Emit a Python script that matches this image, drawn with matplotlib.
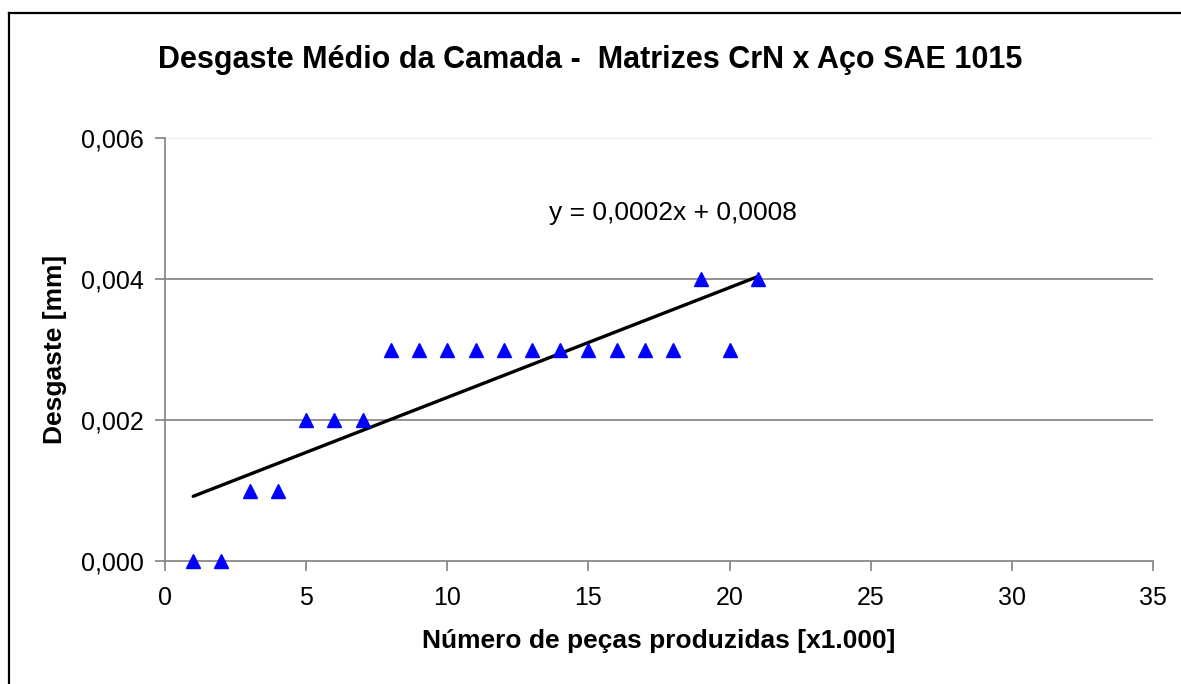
import matplotlib.pyplot as plt
from matplotlib.lines import Line2D
from matplotlib.ticker import FuncFormatter, MultipleLocator
import numpy as np

plt.rcParams['font.family'] = ['Liberation Sans', 'DejaVu Sans']

# dados
pecas = [1, 2, 3, 4, 5, 6, 7, 8, 9, 10, 11, 12, 13, 14, 15, 16, 17, 18, 19, 20, 21]
desgaste = [0.000, 0.000, 0.001, 0.001, 0.002, 0.002, 0.002, 0.003, 0.003, 0.003, 0.003,
            0.003, 0.003, 0.003, 0.003, 0.003, 0.003, 0.003, 0.004, 0.003, 0.004]

titulo = 'Desgaste Médio da Camada -  Matrizes CrN x Aço SAE 1015'

fig = plt.figure(figsize=(11.81, 6.84), dpi=100)
ax = fig.add_axes([165 / 1181, 1 - 561 / 684, 988 / 1181, 423 / 684])

# linha de tendência (regressão linear, como no Excel)
a, b = np.polyfit(pecas, desgaste, 1)
xt = np.array([pecas[0], pecas[-1]])
ax.plot(xt, a * xt + b, color='black', lw=2.4, solid_capstyle='round', zorder=3)

ax.plot(pecas, desgaste, linestyle='none', marker='^', ms=10, color='#0000ff',
        markeredgecolor='#0000ff', zorder=4, clip_on=False)

eq = f'y = {a:.4f}x + {b:.4f}'.replace('.', ',')
ax.text(0.514, 0.823, eq, transform=ax.transAxes, ha='center', va='center', fontsize=19)

ax.set_xlim(0, 35)
ax.set_ylim(0, 0.006)
ax.xaxis.set_major_locator(MultipleLocator(5))
ax.yaxis.set_major_locator(MultipleLocator(0.002))
ax.yaxis.set_major_formatter(FuncFormatter(lambda v, p: f'{v:.3f}'.replace('.', ',')))

for yv in [0.002, 0.004]:
    ax.axhline(yv, color='#808080', lw=1.2, zorder=1)
ax.axhline(0.006, color='#eeeeee', lw=1.0, zorder=1)

for s in ['top', 'right']:
    ax.spines[s].set_visible(False)
for s in ['left', 'bottom']:
    ax.spines[s].set_color('#808080')
    ax.spines[s].set_linewidth(1.2)

ax.tick_params(axis='both', direction='out', length=7, width=1.2, color='#808080',
               labelsize=18)
ax.tick_params(axis='x', pad=11)
ax.tick_params(axis='y', pad=8)

ax.set_xlabel('Número de peças produzidas [x1.000]', fontsize=19, fontweight='bold', labelpad=14)
ax.set_ylabel('Desgaste [mm]', fontsize=19, fontweight='bold', labelpad=10)
fig.text(590 / 1181, 1 - 60 / 684, titulo, ha='center', va='center', fontsize=22,
         fontweight='bold')

# moldura externa do gráfico
fig.add_artist(Line2D([8.5 / 1181, 8.5 / 1181], [0, 1 - 13 / 684], color='black', lw=1.6,
                      transform=fig.transFigure))
fig.add_artist(Line2D([8.5 / 1181, 1], [1 - 13 / 684, 1 - 13 / 684], color='black', lw=1.6,
                      transform=fig.transFigure))

fig.savefig('out.png', dpi=100)
